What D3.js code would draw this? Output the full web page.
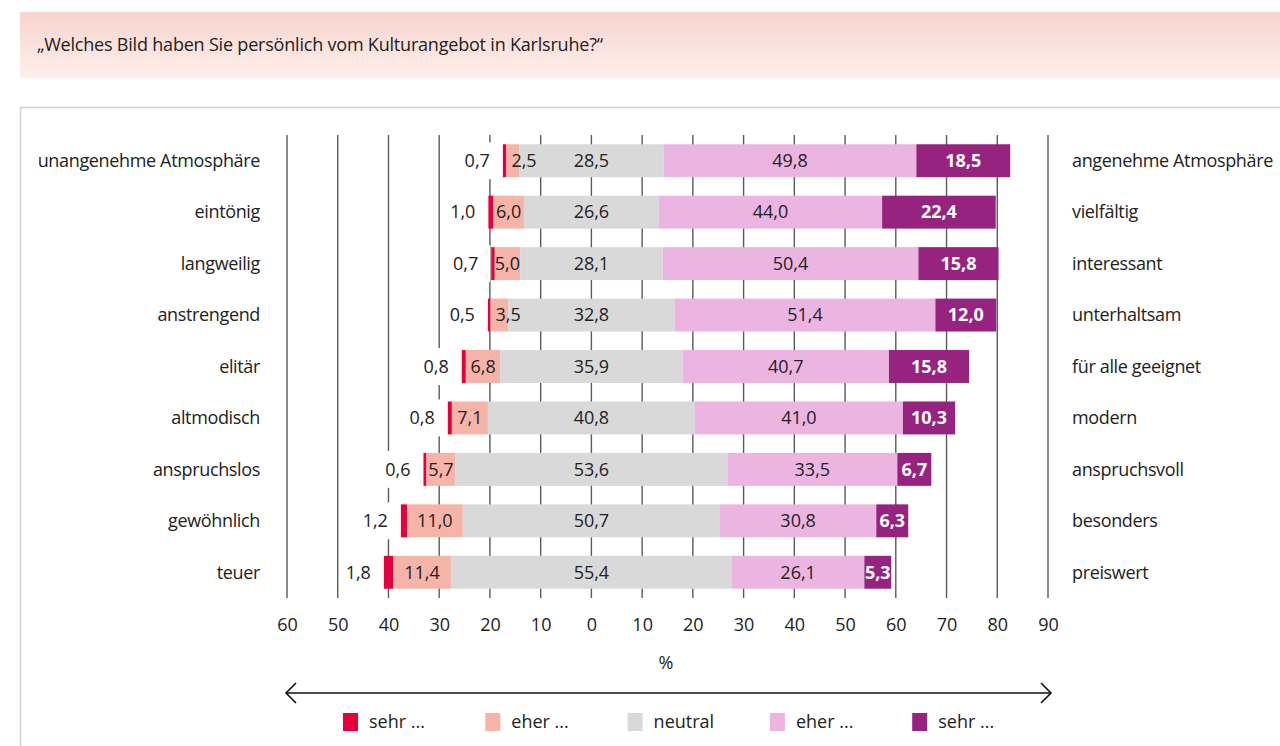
<!DOCTYPE html>
<html><head><meta charset="utf-8">
<script src="https://cdn.jsdelivr.net/npm/d3@7/dist/d3.min.js"></script>
<style>
body{margin:0;background:#fff;}
svg text{font-family:"Open Sans","Noto Sans",sans-serif;}
</style></head>
<body><svg id="c" width="1280" height="746"></svg>
<script>
const title = "„Welches Bild haben Sie persönlich vom Kulturangebot in Karlsruhe?“";
const leftLabels = ["unangenehme Atmosphäre","eintönig","langweilig","anstrengend","elitär","altmodisch","anspruchslos","gewöhnlich","teuer"];
const rightLabels = ["angenehme Atmosphäre","vielfältig","interessant","unterhaltsam","für alle geeignet","modern","anspruchsvoll","besonders","preiswert"];
const sehrNeg = [0.7,1.0,0.7,0.5,0.8,0.8,0.6,1.2,1.8];
const eherNeg = [2.5,6.0,5.0,3.5,6.8,7.1,5.7,11.0,11.4];
const neutral = [28.5,26.6,28.1,32.8,35.9,40.8,53.6,50.7,55.4];
const eherPos = [49.8,44.0,50.4,51.4,40.7,41.0,33.5,30.8,26.1];
const sehrPos = [18.5,22.4,15.8,12.0,15.8,10.3,6.7,6.3,5.3];
const tickValues = [-60,-50,-40,-30,-20,-10,0,10,20,30,40,50,60,70,80,90];
const legendLabels = ["sehr ...","eher ...","neutral","eher ...","sehr ..."];
const colors = ["#e4003a","#f6b3a8","#d9d9d9","#ebb4e1","#96237f"];
const axisTitle = "%";

const svg = d3.select("#c");
const fmt = v => d3.format(".1f")(v).replace(".", ",");

// title band
const defs = svg.append("defs");
const g1 = defs.append("linearGradient").attr("id","tg").attr("x1",0).attr("y1",0).attr("x2",0).attr("y2",1);
g1.append("stop").attr("offset","0%").attr("stop-color","#f8d4ce");
g1.append("stop").attr("offset","100%").attr("stop-color","#fdefeb");
svg.append("rect").attr("x",20).attr("y",12).attr("width",1260).attr("height",66).attr("fill","url(#tg)");
svg.append("text").attr("x",37).attr("y",51).attr("font-size",18).attr("letter-spacing",-0.2).attr("fill","#222").text(title);

// frame
svg.append("path").attr("d","M20.5,746 V107.5 H1280").attr("fill","none").attr("stroke","#cfcfcf").attr("stroke-width",1.5);

const x = d3.scaleLinear().domain([-60,90]).range([287,1048]);
const y = d3.scaleBand().domain(d3.range(leftLabels.length)).range([135,598]).paddingInner(0.36).paddingOuter(0.18);
const plotTop = 135, plotBottom = 598;

// grid
svg.append("g").selectAll("line").data(tickValues).join("line")
  .attr("x1",d=>x(d)).attr("x2",d=>x(d)).attr("y1",plotTop).attr("y2",plotBottom)
  .attr("stroke","#5a5a5a").attr("stroke-width",1.4);

// axis
const axis = d3.axisBottom(x).tickValues(tickValues).tickSize(0).tickPadding(20).tickFormat(d=>Math.abs(d));
const ag = svg.append("g").attr("transform",`translate(0,${plotBottom})`).call(axis);
ag.select(".domain").remove();
ag.selectAll("text").attr("font-size",18).attr("fill","#222").attr("font-family","'Open Sans',sans-serif");

svg.append("text").attr("x",666).attr("y",669).attr("text-anchor","middle").attr("font-size",18).attr("fill","#222").text(axisTitle);

// bars
const rows = leftLabels.map((l,i)=>{
  const n0 = -neutral[i]/2;
  const segs = [
    {k:0, a:n0-eherNeg[i]-sehrNeg[i], b:n0-eherNeg[i], v:sehrNeg[i]},
    {k:1, a:n0-eherNeg[i], b:n0, v:eherNeg[i]},
    {k:2, a:n0, b:-n0, v:neutral[i]},
    {k:3, a:-n0, b:-n0+eherPos[i], v:eherPos[i]},
    {k:4, a:-n0+eherPos[i], b:-n0+eherPos[i]+sehrPos[i], v:sehrPos[i]}
  ];
  return {i, segs};
});
const bh = y.bandwidth();
const rg = svg.append("g").selectAll("g").data(rows).join("g").attr("transform",d=>`translate(0,${y(d.i)})`);
rg.selectAll("rect.seg").data(d=>d.segs).join("rect").attr("class","seg")
  .attr("x",d=>x(d.a)).attr("width",d=>x(d.b)-x(d.a)).attr("y",0).attr("height",bh).attr("fill",d=>colors[d.k]);

// value labels
rg.each(function(d){
  const g = d3.select(this);
  const s = d.segs[0];
  const t = g.append("text").attr("x",x(s.a)-13).attr("y",bh/2).attr("dy","0.35em")
    .attr("text-anchor","end").attr("font-size",18).attr("fill","#222").text(fmt(s.v));
  const bb = t.node().getBBox();
  g.insert("rect","text").attr("x",bb.x-5).attr("y",-2).attr("width",x(s.a)-1-(bb.x-5)).attr("height",bh+4).attr("fill","#fff");
  [1,2,3].forEach(k=>{
    const sg = d.segs[k];
    const tt = g.append("text").attr("x",(x(sg.a)+x(sg.b))/2).attr("y",bh/2).attr("dy","0.35em")
      .attr("text-anchor","middle").attr("font-size",18).attr("fill","#222").text(fmt(sg.v));
    const w = tt.node().getComputedTextLength();
    if (k===1 && w >= x(sg.b)-x(sg.a)) tt.attr("text-anchor","start").attr("x",x(sg.a)+5);
  });
  const sp = d.segs[4];
  const pt = g.append("text").attr("x",(x(sp.a)+x(sp.b))/2).attr("y",bh/2).attr("dy","0.35em")
    .attr("text-anchor","middle").attr("font-size",18).attr("font-weight","bold").attr("fill","#fff").text(fmt(sp.v));
  const pw = pt.node().getComputedTextLength();
  if (pw >= x(sp.b)-x(sp.a)) pt.attr("text-anchor","end").attr("x",x(sp.b)-7);
});

// category labels
svg.append("g").selectAll("text").data(leftLabels).join("text")
  .attr("x",260).attr("y",(d,i)=>y(i)+bh/2).attr("dy","0.35em").attr("text-anchor","end")
  .attr("font-size",18).attr("letter-spacing",-0.35).attr("fill","#222").text(d=>d);
svg.append("g").selectAll("text").data(rightLabels).join("text")
  .attr("x",1072).attr("y",(d,i)=>y(i)+bh/2).attr("dy","0.35em").attr("text-anchor","start")
  .attr("font-size",18).attr("letter-spacing",-0.35).attr("fill","#222").text(d=>d);

// double arrow
const ay = 693;
svg.append("line").attr("x1",x(-60)-1).attr("x2",x(90)+3).attr("y1",ay).attr("y2",ay).attr("stroke","#111").attr("stroke-width",1.6);
svg.append("path").attr("d",`M${x(-60)+9},${ay-10} L${x(-60)-1},${ay} L${x(-60)+9},${ay+10}`).attr("fill","none").attr("stroke","#111").attr("stroke-width",1.6);
svg.append("path").attr("d",`M${x(90)-7},${ay-10} L${x(90)+3},${ay} L${x(90)-7},${ay+10}`).attr("fill","none").attr("stroke","#111").attr("stroke-width",1.6);

// legend
const lg = svg.append("g").selectAll("g").data(legendLabels).join("g")
  .attr("transform",(d,i)=>`translate(${343+i*142.3},713)`);
lg.append("rect").attr("width",15).attr("height",18).attr("fill",(d,i)=>colors[i]);
lg.append("text").attr("x",26).attr("y",9).attr("dy","0.35em").attr("font-size",18).attr("fill","#222").text(d=>d);
</script></body></html>
